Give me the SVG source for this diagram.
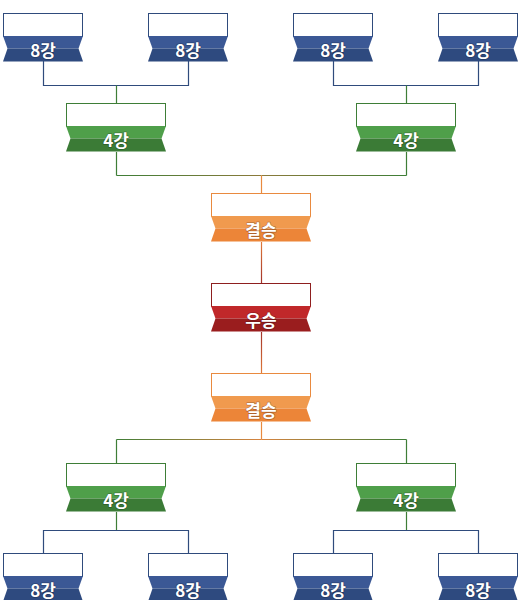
<svg xmlns="http://www.w3.org/2000/svg" width="520" height="600" viewBox="0 0 520 600">
<style>
.box{fill:#fff;stroke:var(--st);stroke-width:1}
.lt{fill:var(--lt)}
.dk{fill:var(--dk)}
.lbl{font-family:"Noto Sans CJK KR","Noto Sans",sans-serif;font-weight:bold;font-size:17px;fill:#fff;text-anchor:middle;dominant-baseline:central;stroke:rgba(0,0,0,0.25);stroke-width:1.5px;paint-order:stroke;stroke-linejoin:round}
.blue{--st:#2F4B7C;--lt:#3B5895;--dk:#2E4A7F}
.green{--st:#3E7E37;--lt:#4F9F4A;--dk:#3B7B36}
.orange{--st:#E98A3F;--lt:#F09A4E;--dk:#EC8538}
.red{--st:#8E1F1F;--lt:#C0282A;--dk:#9A1D1E}
.c{fill:none;stroke-width:1.2}
.cb{stroke:#2F4B7C}.cg{stroke:#3E7E37}.co{stroke:#E98A3F}
</style>
<defs>
<g id="n80">
<rect class="box" x="0.5" y="0.5" width="79" height="23"/>
<polygon class="lt" points="0,23 80,23 75.5,35.5 4.5,35.5"/>
<polygon class="dk" points="4.5,35.5 75.5,35.5 80,48.5 0,48.5"/>
</g>
<g id="n100">
<rect class="box" x="0.5" y="0.5" width="99" height="23"/>
<polygon class="lt" points="0,23 100,23 95.5,35.5 4.5,35.5"/>
<polygon class="dk" points="4.5,35.5 95.5,35.5 100,48.5 0,48.5"/>
</g>
<linearGradient id="gL1" gradientUnits="userSpaceOnUse" x1="116" y1="0" x2="261" y2="0"><stop offset="0" stop-color="#3E7E37"/><stop offset="1" stop-color="#8C7A3A"/></linearGradient>
<linearGradient id="gR1" gradientUnits="userSpaceOnUse" x1="406" y1="0" x2="261" y2="0"><stop offset="0" stop-color="#3E7E37"/><stop offset="1" stop-color="#8C7A3A"/></linearGradient>
<linearGradient id="gL2" gradientUnits="userSpaceOnUse" x1="116" y1="0" x2="261" y2="0"><stop offset="0" stop-color="#3E7E37"/><stop offset="1" stop-color="#D88440"/></linearGradient>
<linearGradient id="gR2" gradientUnits="userSpaceOnUse" x1="406" y1="0" x2="261" y2="0"><stop offset="0" stop-color="#3E7E37"/><stop offset="1" stop-color="#D88440"/></linearGradient>
<linearGradient id="gV1" gradientUnits="userSpaceOnUse" x1="0" y1="242" x2="0" y2="283"><stop offset="0" stop-color="#E07A3A"/><stop offset="1" stop-color="#A2322A"/></linearGradient>
<linearGradient id="gV2" gradientUnits="userSpaceOnUse" x1="0" y1="332" x2="0" y2="373"><stop offset="0" stop-color="#A2322A"/><stop offset="1" stop-color="#E07A3A"/></linearGradient>
</defs>
<g id="connectors">
<path class="c cb" d="M43.5 61V85.5H116.5M188.5 61V85.5H116.5"/>
<path class="c cb" d="M333.5 61V85.5H406.5M478.5 61V85.5H406.5"/>
<path class="c cg" d="M116.5 85.5V103M406.5 85.5V103"/>
<path class="c cg" d="M116.5 152V175.5M406.5 152V175.5"/>
<path class="c" stroke="url(#gL1)" d="M116.5 175.5H261.5"/>
<path class="c" stroke="url(#gR1)" d="M406.5 175.5H261.5"/>
<path class="c co" d="M261.5 175.5V193"/>
<path class="c" stroke="url(#gV1)" d="M261.5 242V283"/>
<path class="c" stroke="url(#gV2)" d="M261.5 332V373"/>
<path class="c co" d="M261.5 422V439.5"/>
<path class="c" stroke="url(#gL2)" d="M116.5 439.5H261.5"/>
<path class="c" stroke="url(#gR2)" d="M406.5 439.5H261.5"/>
<path class="c cg" d="M116.5 439.5V463M406.5 439.5V463"/>
<path class="c cg" d="M116.5 512V530.5M406.5 512V530.5"/>
<path class="c cb" d="M43.5 553V530.5H188.5V553M333.5 553V530.5H478.5V553"/>
</g>
<g id="r8-1" class="blue" transform="translate(3,13)"><use href="#n80"/><text class="lbl" x="40" y="36">8강</text></g>
<g id="r8-2" class="blue" transform="translate(148,13)"><use href="#n80"/><text class="lbl" x="40" y="36">8강</text></g>
<g id="r8-3" class="blue" transform="translate(293,13)"><use href="#n80"/><text class="lbl" x="40" y="36">8강</text></g>
<g id="r8-4" class="blue" transform="translate(438,13)"><use href="#n80"/><text class="lbl" x="40" y="36">8강</text></g>
<g id="r4-1" class="green" transform="translate(66,103)"><use href="#n100"/><text class="lbl" x="50" y="36">4강</text></g>
<g id="r4-2" class="green" transform="translate(356,103)"><use href="#n100"/><text class="lbl" x="50" y="36">4강</text></g>
<g id="final-1" class="orange" transform="translate(211,193)"><use href="#n100"/><text class="lbl" x="50" y="36">결승</text></g>
<g id="winner" class="red" transform="translate(211,283)"><use href="#n100"/><text class="lbl" x="50" y="36">우승</text></g>
<g id="final-2" class="orange" transform="translate(211,373)"><use href="#n100"/><text class="lbl" x="50" y="36">결승</text></g>
<g id="r4-3" class="green" transform="translate(66,463)"><use href="#n100"/><text class="lbl" x="50" y="36">4강</text></g>
<g id="r4-4" class="green" transform="translate(356,463)"><use href="#n100"/><text class="lbl" x="50" y="36">4강</text></g>
<g id="r8-5" class="blue" transform="translate(3,553)"><use href="#n80"/><text class="lbl" x="40" y="36">8강</text></g>
<g id="r8-6" class="blue" transform="translate(148,553)"><use href="#n80"/><text class="lbl" x="40" y="36">8강</text></g>
<g id="r8-7" class="blue" transform="translate(293,553)"><use href="#n80"/><text class="lbl" x="40" y="36">8강</text></g>
<g id="r8-8" class="blue" transform="translate(438,553)"><use href="#n80"/><text class="lbl" x="40" y="36">8강</text></g>
</svg>
